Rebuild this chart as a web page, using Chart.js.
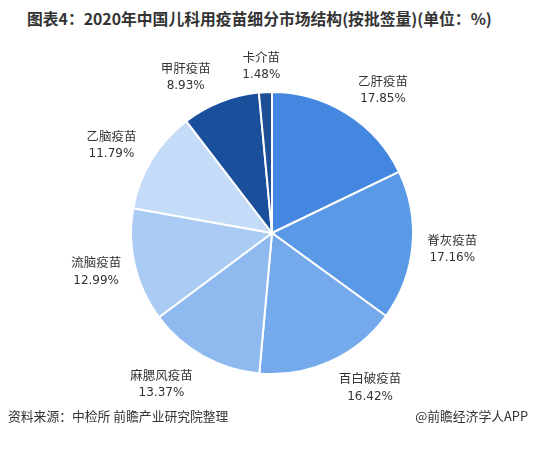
<!DOCTYPE html>
<html>
<head>
<meta charset="utf-8">
<script src="https://cdn.jsdelivr.net/npm/chart.js@4"></script>
<style>
  html, body { margin: 0; padding: 0; background: #fff; }
  body { width: 537px; height: 453px; position: relative; overflow: hidden; font-family: "Noto Sans CJK SC", "Noto Sans", sans-serif; color: #333; }
  #title { position: absolute; left: 27px; top: 7px; white-space: nowrap; font-size: 15.8px; font-weight: bold; color: #333; }
  #wrap { position: absolute; left: 0; top: 0; width: 537px; height: 453px; }
  .foot { position: absolute; top: 406px; font-size: 12.8px; color: #333; }
</style>
</head>
<body>
<div id="title">图表4：2020年中国儿科用疫苗细分市场结构(按批签量)(单位：%)</div>
<div id="wrap"><canvas id="pie"></canvas></div>
<div class="foot" style="left:8px">资料来源：中检所 前瞻产业研究院整理</div>
<div class="foot" style="right:9px">@前瞻经济学人APP</div>
<script>
const categories = ['乙肝疫苗', '脊灰疫苗', '百白破疫苗', '麻腮风疫苗', '流脑疫苗', '乙脑疫苗', '甲肝疫苗', '卡介苗'];
const shares = [17.85, 17.16, 16.42, 13.37, 12.99, 11.79, 8.93, 1.48];
const colors = ['#4387e0', '#5a99e5', '#74a9eb', '#8fbaf0', '#a9cbf4', '#c4dcf8', '#1a4f9b', '#1d4f94'];

// label placement tweaks: angle shift (deg) from slice middle, gap beyond the rim (px)
const labelShift = [5.7, 0, -8, 7, 1, -2.6, -7.6, -1];
const labelGap = [40, 40, 42, 46, 39, 42, 37, 26];

const outsideLabels = {
  id: 'outsideLabels',
  afterDatasetsDraw(chart) {
    const ctx = chart.ctx;
    const meta = chart.getDatasetMeta(0);
    ctx.save();
    ctx.fillStyle = '#333';
    ctx.textAlign = 'center';
    ctx.textBaseline = 'middle';
    meta.data.forEach((arc, i) => {
      const mid = (arc.startAngle + arc.endAngle) / 2 + labelShift[i] * Math.PI / 180;
      const dist = arc.outerRadius + labelGap[i];
      const x = arc.x + Math.cos(mid) * dist;
      const y = arc.y + Math.sin(mid) * dist;
      ctx.font = '12.5px "Noto Sans CJK SC", sans-serif';
      ctx.fillText(categories[i], x, y - 9);
      ctx.font = '12px "DejaVu Sans", sans-serif';
      ctx.fillText(shares[i].toFixed(2) + '%', x, y + 9);
    });
    ctx.restore();
  }
};

new Chart(document.getElementById('pie'), {
  type: 'pie',
  data: {
    labels: categories,
    datasets: [{
      data: shares,
      backgroundColor: colors,
      borderColor: '#fff',
      borderWidth: 2,
    }],
  },
  options: {
    responsive: true,
    maintainAspectRatio: false,
    animation: false,
    layout: { padding: { left: 130, right: 123, top: 91, bottom: 78 } },
    plugins: { legend: { display: false }, tooltip: { enabled: false } },
  },
  plugins: [outsideLabels],
});
</script>
</body>
</html>
